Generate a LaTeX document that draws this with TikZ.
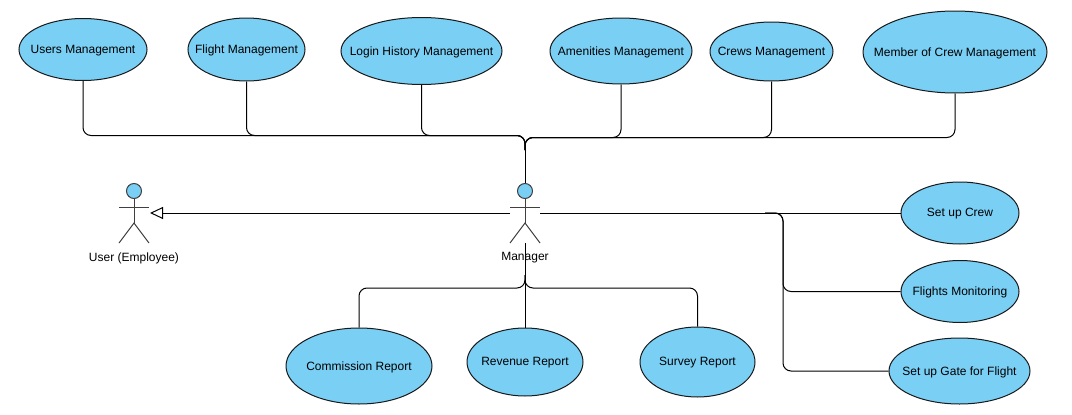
\documentclass[tikz,border=0pt]{standalone}
\usepackage{fontspec}
\setmainfont{Liberation Sans}
\usetikzlibrary{shapes,arrows.meta,positioning}
\definecolor{ucfill}{HTML}{7ACFF5}
\def \pu {1pt}
\tikzset{
  usecase/.style n args={3}{draw=black!90,fill=ucfill,ellipse,line width=1pt,inner sep=0pt,
    minimum width=#1*\pu,minimum height=#2*\pu,
    label={[ucname]center:#3}},
  ucname/.style={font=\fontsize{12}{14}\selectfont,inner sep=0pt,yshift=-1*\pu},
  actorhead/.style={draw=black!75,fill=ucfill,circle,line width=1pt,minimum size=15*\pu,inner sep=0pt},
  actorline/.style={draw=black!75,line width=1pt},
  actorname/.style={font=\fontsize{12}{14}\selectfont,inner sep=0pt},
  link/.style={draw=black,line width=1pt,rounded corners=8*\pu},
}
\begin{document}
\begin{tikzpicture}[x=\pu,y=-\pu]
  \useasboundingbox (0,0) rectangle (1072,415);
  % actors
  \foreach \nm/\cx in {user/134,mgr/525}{
    \node[actorhead] (\nm head) at (\cx,191) {};
    \coordinate (\nm armL) at (\cx-15,207);
    \coordinate (\nm armR) at (\cx+15,207);
    \coordinate (\nm hip) at (\cx,223);
    \coordinate (\nm legL) at (\cx-15,243);
    \coordinate (\nm legR) at (\cx+15,243);
    \draw[actorline] (\nm head) -- (\nm hip);
    \draw[actorline] (\nm armL) -- (\nm armR);
    \draw[actorline] (\nm legL) -- (\nm hip) -- (\nm legR);
  }
  \coordinate (mgrfoot) at (525,243);
  \coordinate (mgrwestp) at (510,213);
  \coordinate (mgreastp) at (540,213);
  \coordinate (usereastp) at (150,213);
  \coordinate (mgrtopL) at (525,135.5);
  \coordinate (mgrtopR) at (525,137.5);
  \coordinate (mgrstem) at (525,150);
  \coordinate (mgrbot) at (525,288);
  \coordinate (mgrbotstem) at (525,275);
  \coordinate (bendS) at (765,213);
  \coordinate (bendA) at (783,213);

  % top use cases
  \node[usecase={128}{62}{Users Management}] (users) at (83,49.5) {};
  \node[usecase={117}{63}{Flight Management}] (flight) at (246.5,49.5) {};
  \node[usecase={161}{67}{Login History Management}] (login) at (421.5,51) {};
  \node[usecase={142}{66}{Amenities Management}] (amen) at (621,51) {};
  \node[usecase={123}{59}{Crews Management}] (crews) at (771.5,51.5) {};
  \node[usecase={184}{82}{Member of Crew Management}] (member) at (955,52) {};

  % right use cases
  \node[usecase={118}{62}{Set up Crew}] (setcrew) at (960,213) {};
  \node[usecase={118}{62}{Flights Monitoring}] (monitor) at (960,291.5) {};
  \node[usecase={141}{66}{Set up Gate for Flight}] (setgate) at (959.5,371) {};

  % bottom use cases
  \node[usecase={146}{76}{Commission Report}] (commis) at (359,366) {};
  \node[usecase={116}{68}{Revenue Report}] (revenue) at (525,362) {};
  \node[usecase={115}{70}{Survey Report}] (survey) at (697.5,362) {};

  % links
  \foreach \uc in {users,flight,login}
    \draw[link] (\uc.south) |- (mgrtopL) -- (mgrstem);
  \foreach \uc in {amen,crews,member}
    \draw[link] (\uc.south) |- (mgrtopR) -- (mgrstem);
  \draw[link] (mgrstem) -- (mgrhead.north);
  \foreach \uc in {commis,survey}
    \draw[link] (\uc.north) |- (mgrbot) -- (mgrbotstem);
  \draw[link] (revenue.north) -- (mgrfoot);
  \draw[link] (mgreastp) -- (setcrew.west);
  \draw[link] (bendS) -- (bendA) |- (monitor.west);
  \draw[link] (bendS) -- (bendA) |- (setgate.west);
  \draw[link,-{Triangle[open,length=13*\pu,width=12*\pu]}] (mgrwestp) -- (usereastp);

  % actor names
  \node[actorname] (username) at (134,258) {User (Employee)};
  \node[actorname] (mgrname) at (525,258) {Manager};
\end{tikzpicture}
\end{document}
